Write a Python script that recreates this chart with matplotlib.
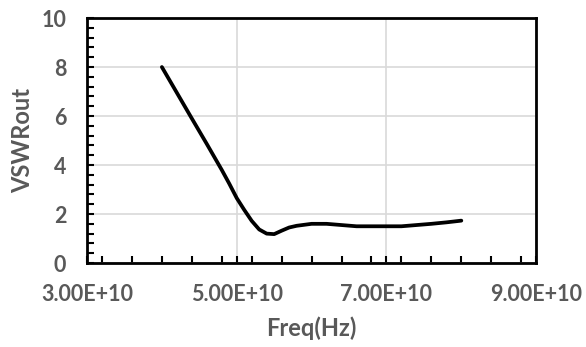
import numpy as np
import matplotlib.pyplot as plt
from matplotlib.ticker import MultipleLocator

# data
freq_hz = [4.0e10, 4.2e10, 4.4e10, 4.6e10, 4.8e10, 4.9e10, 5.0e10, 5.1e10, 5.2e10,
           5.3e10, 5.4e10, 5.5e10, 5.6e10, 5.7e10, 5.8e10, 6.0e10, 6.2e10,
           6.4e10, 6.6e10, 6.8e10, 7.0e10, 7.2e10, 7.4e10, 7.6e10, 7.8e10, 8.0e10]
vswr_out = [8.0, 6.95, 5.9, 4.86, 3.8, 3.24, 2.65, 2.17, 1.72,
            1.37, 1.2, 1.18, 1.32, 1.45, 1.52, 1.6, 1.6,
            1.55, 1.5, 1.5, 1.5, 1.5, 1.55, 1.6, 1.66, 1.73]
x_ticks = [3e10, 5e10, 7e10, 9e10]
x_ticklabels = ["3.00E+10", "5.00E+10", "7.00E+10", "9.00E+10"]

txt = "#595959"
plt.rcParams['font.family'] = ['Lato', 'DejaVu Sans']
plt.rcParams['font.weight'] = 'bold'

fig = plt.figure(figsize=(5.86, 3.47), dpi=100)
ax = fig.add_axes([0.1485, 0.242, 0.7665, 0.706])

ax.plot(freq_hz, vswr_out, color="black", lw=2.7, solid_joinstyle="round",
        solid_capstyle="round", zorder=3)

ax.set_xlim(3e10, 9e10)
ax.set_ylim(0, 10)
ax.set_xticks(x_ticks)
ax.set_xticklabels(x_ticklabels)
ax.set_yticks([0, 2, 4, 6, 8, 10])
ax.xaxis.set_minor_locator(MultipleLocator(0.4e10))
ax.yaxis.set_minor_locator(MultipleLocator(0.4))

ax.grid(True, which="major", color="#d9d9d9", lw=1.2, zorder=0)
ax.set_axisbelow(True)

for s in ax.spines.values():
    s.set_color("black")
    s.set_linewidth(2.0)

ax.tick_params(which="both", direction="in", color="black", width=1.5, length=5,
               top=False, right=False)
ax.tick_params(which="major", labelsize=15.5, labelcolor=txt, pad=15)

ax.set_xlabel("Freq(Hz)", fontsize=17, color=txt, fontweight="bold", labelpad=8)
ax.set_ylabel("VSWRout", fontsize=17, color=txt, fontweight="bold", labelpad=5)

fig.savefig("out.png", dpi=100)
